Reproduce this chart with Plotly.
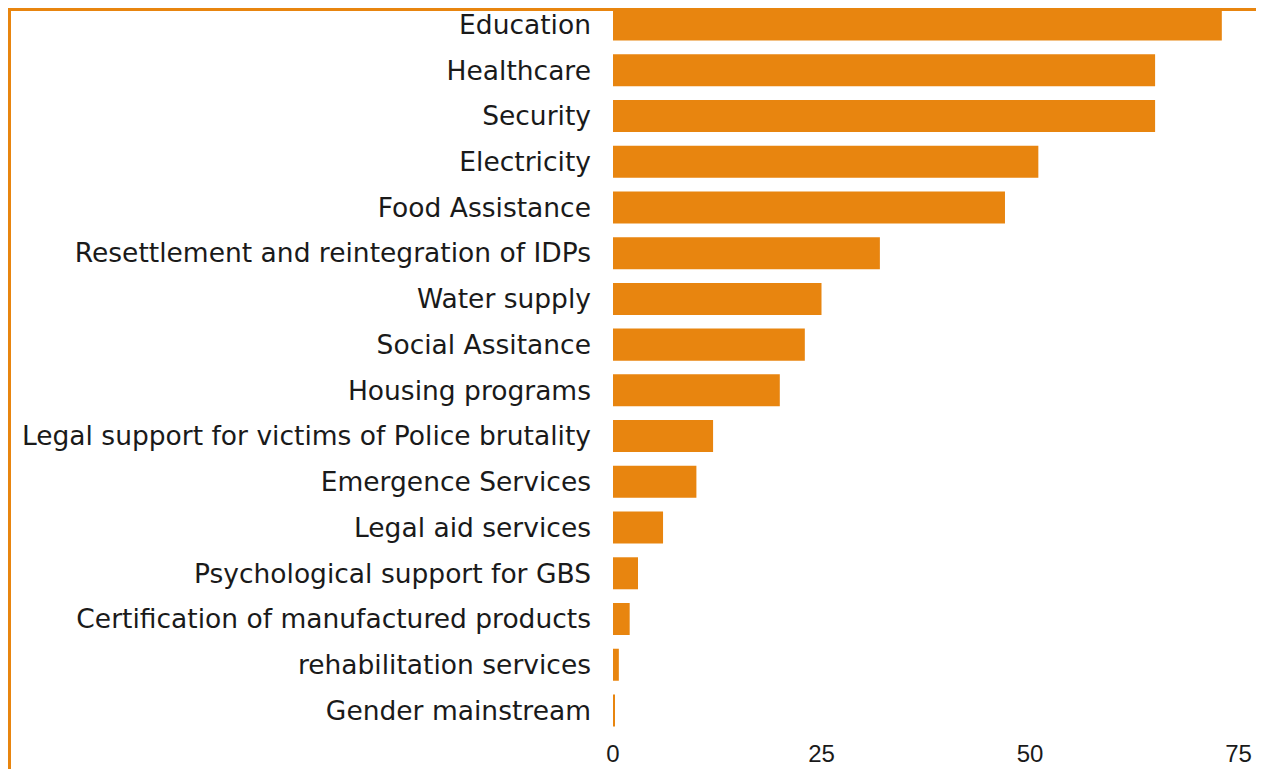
import plotly.graph_objects as go

categories = [
    "Education", "Healthcare", "Security", "Electricity", "Food Assistance",
    "Resettlement and reintegration of IDPs", "Water supply", "Social Assitance",
    "Housing programs", "Legal support for victims of Police brutality",
    "Emergence Services", "Legal aid services", "Psychological support for GBS",
    "Certification of manufactured products", "rehabilitation services",
    "Gender mainstream",
]
values = [73, 65, 65, 51, 47, 32, 25, 23, 20, 12, 10, 6, 3, 2, 0.7, 0.15]
tick_vals = [0, 25, 50, 75]
tick_text = ["0", "25", "50", "75"]

orange = "#E8850F"
W, H = 1264, 769
L, R, T, B = 605, 0, 0, 40
pw = W - L - R
ph = H - T - B
px_per_unit = 8.34

fig = go.Figure(go.Bar(
    y=categories, x=values, orientation="h",
    marker=dict(color=orange, line=dict(width=0)),
))

fig.update_layout(
    width=W, height=H,
    margin=dict(l=L, r=R, t=T, b=B, autoexpand=False),
    paper_bgcolor="white", plot_bgcolor="white",
    bargap=0.3,
    showlegend=False,
    font=dict(family="DejaVu Sans, sans-serif", color="#1a1a1a"),
)
fig.update_yaxes(
    range=[15.58, -0.361], showgrid=False, zeroline=False, showline=False,
    ticks="", ticklabelstandoff=21,
    tickfont=dict(size=26.5, family="DejaVu Sans", color="#1a1a1a"),
)
fig.update_xaxes(
    range=[0, pw / px_per_unit], tickvals=tick_vals, ticktext=tick_text,
    showgrid=False, zeroline=False, showline=False, ticks="",
    ticklabelstandoff=0,
    tickfont=dict(size=24, family="Liberation Sans, Arial", color="#1a1a1a"),
)

def px_x(p):
    return (p - L) / pw
def px_y(p):
    return 1 - (p - T) / ph

fig.add_shape(type="line", xref="paper", yref="paper",
              x0=px_x(0), x1=px_x(W), y0=px_y(1.5), y1=px_y(1.5),
              line=dict(color=orange, width=3), layer="below")
fig.add_shape(type="line", xref="paper", yref="paper",
              x0=px_x(1.5), x1=px_x(1.5), y0=px_y(0), y1=px_y(H),
              line=dict(color=orange, width=3), layer="below")

fig.write_html("out.html")
